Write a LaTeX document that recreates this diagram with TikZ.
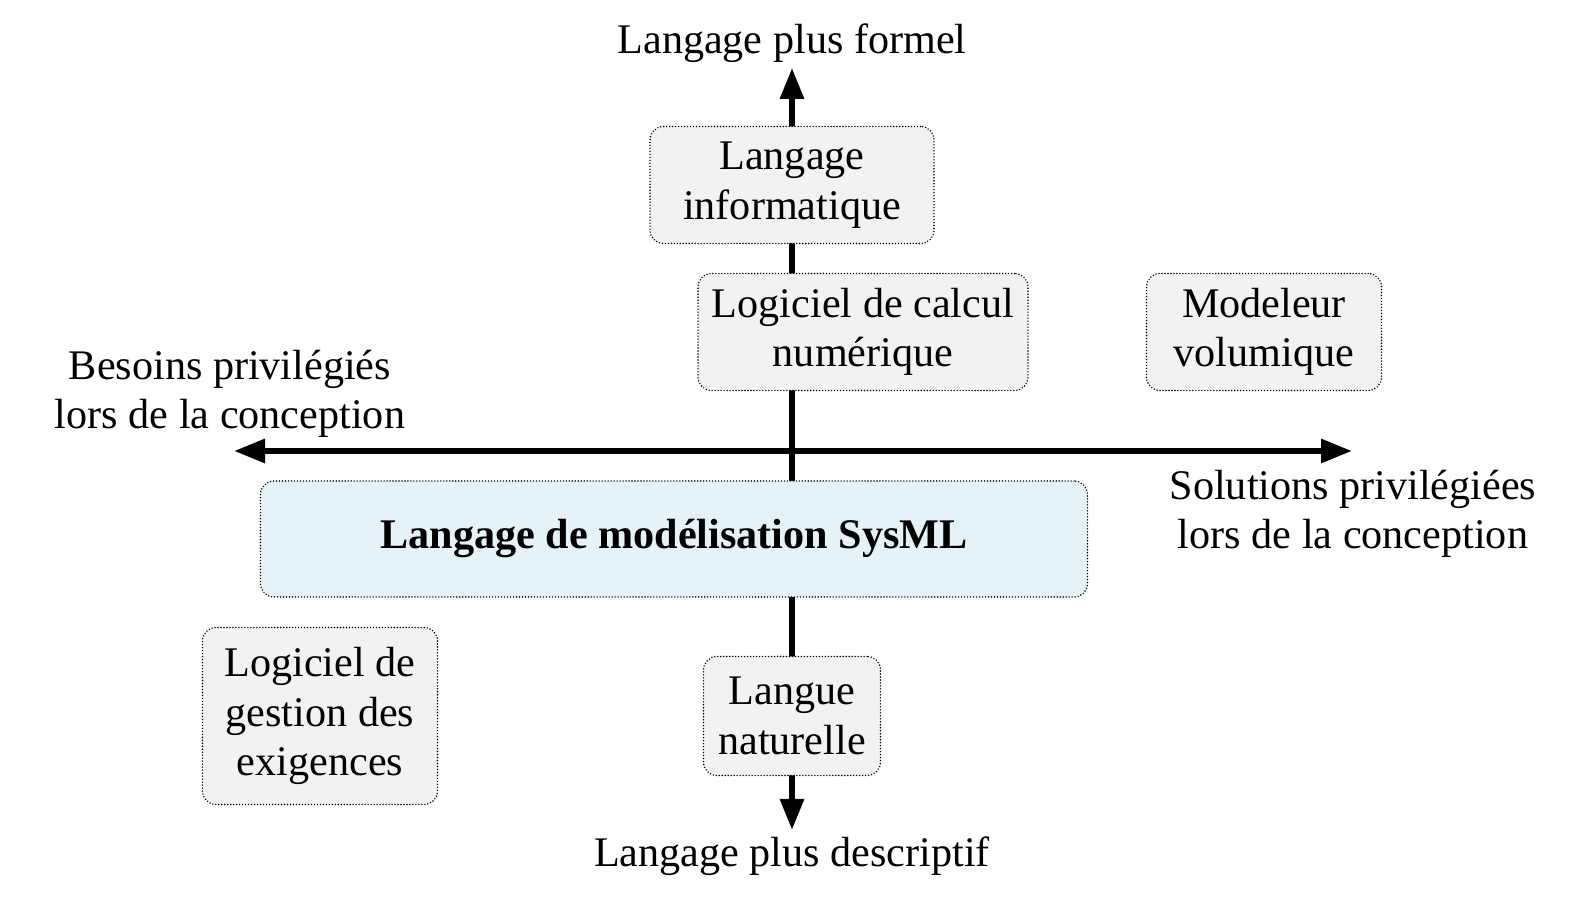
\documentclass[tikz,border=0pt]{standalone}
\usepackage{fontspec}
\setmainfont{Liberation Serif}
\usetikzlibrary{arrows.meta}
\definecolor{bleuclair}{RGB}{229,242,247}
\tikzset{
    texte/.style={font=\fontsize{12}{14.1}\selectfont, align=center},
    boite/.style={texte, draw=black, line width=0.45pt, line cap=round, dash pattern=on 0pt off 0.85pt, fill=black!5, rounded corners=3.8pt, inner sep=0pt, minimum height=1.17cm},
    fleche/.style={line width=1.7pt, {Triangle[length=0.31cm,width=0.23cm]}-{Triangle[length=0.31cm,width=0.23cm]}}
}
\begin{document}
\begin{tikzpicture}
    \useasboundingbox (0,0) rectangle (15.84,9.01);
    % axes
    \coordinate (haut) at (7.92,8.33);
    \coordinate (bas) at (7.92,0.71);
    \coordinate (gauche) at (2.34,4.50);
    \coordinate (droite) at (13.52,4.50);
    \draw[fleche] (bas) -- (haut);
    \draw[fleche] (gauche) -- (droite);
    \node[texte] (formel) at (7.92,8.58) {Langage plus formel};
    \node[texte] (descriptif) at (7.92,0.45) {Langage plus descriptif};
    \node[texte] (besoins) at (2.30,5.07) {Besoins privilégiés\\lors de la conception};
    \node[texte] (solutions) at (13.53,3.87) {Solutions privilégiées\\lors de la conception};
    % outils
    \node[boite, minimum width=2.84cm] (informatique) at (7.92,7.16) {Langage\\informatique};
    \node[boite, minimum width=3.30cm] (calcul) at (8.63,5.69) {Logiciel de calcul\\numérique};
    \node[boite, minimum width=2.35cm] (modeleur) at (12.64,5.69) {Modeleur\\volumique};
    \node[boite, fill=bleuclair, minimum width=8.27cm, minimum height=1.16cm] (sysml) at (6.74,3.62) {\textbf{Langage de modélisation SysML}};
    \node[boite, minimum width=2.35cm, minimum height=1.77cm] (exigences) at (3.20,1.85) {Logiciel de\\gestion des\\exigences};
    \node[boite, minimum width=1.77cm, minimum height=1.19cm] (naturelle) at (7.92,1.85) {Langue\\naturelle};
\end{tikzpicture}
\end{document}
